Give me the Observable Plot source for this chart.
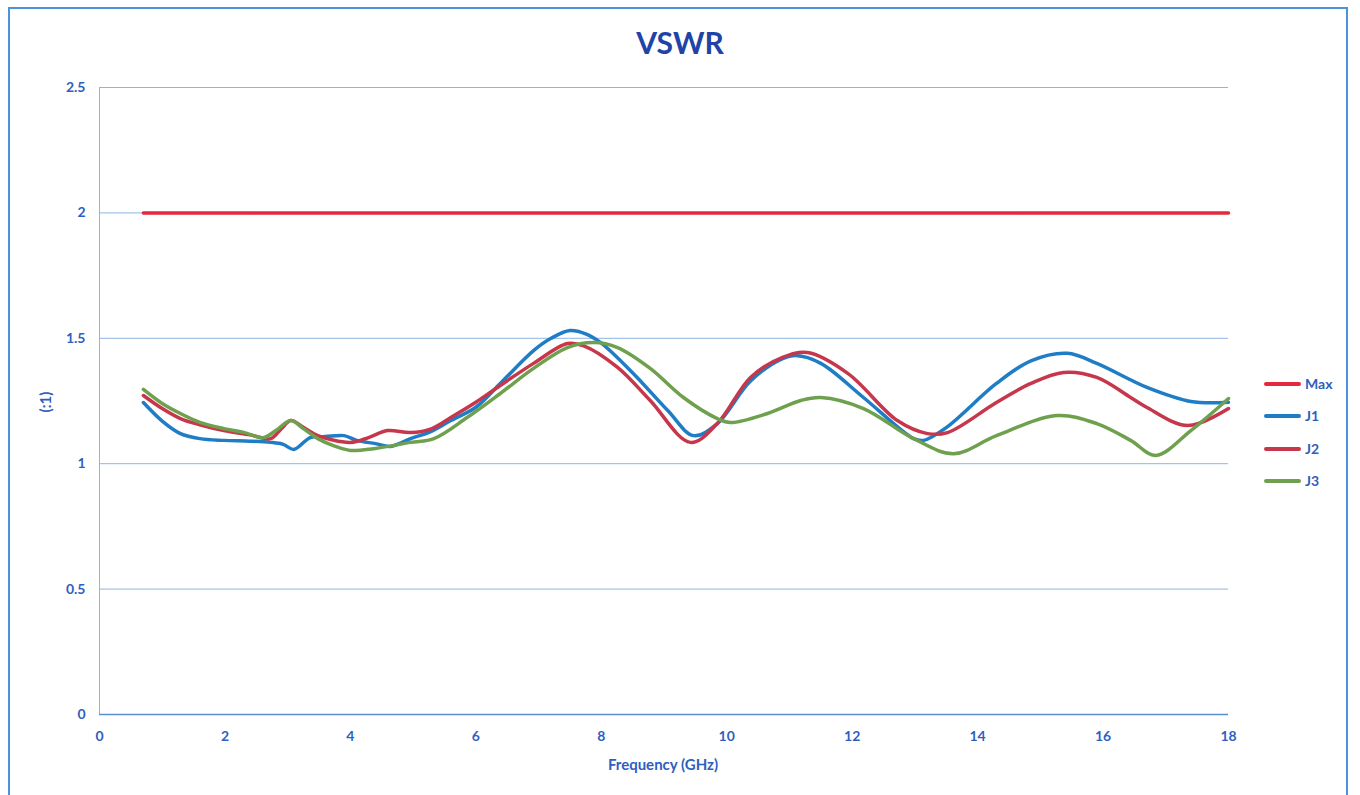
<!DOCTYPE html>
<html><head><meta charset="utf-8">
<script src="https://cdn.jsdelivr.net/npm/d3@7"></script>
<script src="https://cdn.jsdelivr.net/npm/@observablehq/plot@0.6"></script>
<style>
body{margin:0;background:#fff;font-family:Lato,"Open Sans",sans-serif;}
#wrap{position:relative;width:1360px;height:795px;overflow:hidden;}
#frame{position:absolute;left:8px;top:7px;width:1340px;height:800px;border:2px solid #4d93d9;box-sizing:border-box;pointer-events:none;}
#title{position:absolute;left:0;width:1360px;top:24px;text-align:center;font-size:30px;font-weight:bold;color:#2043a8;}
#ylab{position:absolute;left:45px;top:402px;transform:translate(-50%,-50%) rotate(-90deg);font-size:15px;font-weight:bold;color:#2e5fbf;}
#xlab{position:absolute;left:0;width:1326px;top:755px;text-align:center;font-size:15px;font-weight:bold;color:#2e5fbf;}
.lg{position:absolute;left:1264px;height:20px;}
.lg span.sw{position:absolute;left:0;top:8px;width:37px;height:4px;border-radius:2px;}
.lg span.tx{position:absolute;left:41px;top:0;font-size:14px;font-weight:bold;color:#2e5fbf;line-height:20px;}
#chart{position:absolute;left:0;top:0;}
</style>
</head><body>
<div id="wrap">
<div id="chart"></div>
<div id="title">VSWR</div>
<div id="ylab">(:1)</div>
<div id="xlab">Frequency (GHz)</div>
<div id="legend"></div>
<div id="frame"></div>
</div>
<script>
const seriesNames = ["Max", "J1", "J2", "J3"];
const seriesColors = ["#e4283d", "#1f7dc6", "#c7374c", "#6ea04e"];
const xTicks = [0, 2, 4, 6, 8, 10, 12, 14, 16, 18];
const yTicks = [0, 0.5, 1, 1.5, 2, 2.5];

const maxFreq = [0.7, 18];
const maxVal = [2, 2];

const j1Freq = [0.7, 1.0, 1.29, 1.6, 1.98, 2.4, 2.73, 2.93, 3.1, 3.36, 3.6, 3.9, 4.1, 4.4, 4.64, 4.96, 5.3, 5.6, 6.0, 6.39, 6.92, 7.2, 7.5, 7.75, 7.99, 8.51, 9.06, 9.47, 9.85, 10.38, 10.9, 11.1, 11.5, 12.18, 12.98, 13.14, 13.5, 14.3, 14.85, 15.43, 15.9, 16.7, 17.4, 18];
const j1Val = [1.244, 1.17, 1.12, 1.10, 1.093, 1.09, 1.085, 1.077, 1.057, 1.104, 1.108, 1.112, 1.093, 1.08, 1.069, 1.10, 1.13, 1.172, 1.225, 1.32, 1.451, 1.50, 1.531, 1.518, 1.483, 1.36, 1.212, 1.112, 1.16, 1.33, 1.42, 1.431, 1.40, 1.264, 1.10, 1.093, 1.144, 1.32, 1.41, 1.44, 1.40, 1.304, 1.248, 1.245];

const j2Freq = [0.7, 1.0, 1.29, 1.6, 1.98, 2.4, 2.73, 2.9, 3.05, 3.25, 3.48, 4.0, 4.3, 4.59, 4.96, 5.3, 5.6, 6.0, 6.39, 6.92, 7.46, 7.72, 8.26, 8.78, 9.42, 9.85, 10.38, 10.9, 11.29, 11.93, 12.72, 13.2, 13.52, 14.3, 14.85, 15.37, 15.9, 16.44, 16.7, 17.35, 18];
const j2Val = [1.272, 1.22, 1.18, 1.155, 1.132, 1.115, 1.10, 1.14, 1.172, 1.145, 1.112, 1.085, 1.105, 1.132, 1.124, 1.14, 1.184, 1.245, 1.312, 1.40, 1.479, 1.47, 1.384, 1.252, 1.085, 1.16, 1.344, 1.425, 1.443, 1.36, 1.172, 1.12, 1.124, 1.244, 1.32, 1.364, 1.344, 1.264, 1.224, 1.152, 1.22];

const j3Freq = [0.7, 1.0, 1.29, 1.6, 1.98, 2.3, 2.61, 2.8, 3.05, 3.25, 3.48, 3.75, 4.0, 4.37, 4.96, 5.33, 5.86, 6.39, 6.92, 7.46, 7.88, 8.26, 8.78, 9.31, 9.85, 10.06, 10.65, 11.18, 11.5, 12.18, 12.98, 13.62, 14.3, 15.27, 15.9, 16.44, 16.84, 17.4, 18];
const j3Val = [1.296, 1.24, 1.20, 1.165, 1.14, 1.125, 1.104, 1.13, 1.172, 1.14, 1.10, 1.07, 1.053, 1.06, 1.085, 1.10, 1.184, 1.28, 1.38, 1.463, 1.483, 1.463, 1.38, 1.264, 1.18, 1.164, 1.20, 1.252, 1.264, 1.22, 1.10, 1.04, 1.112, 1.192, 1.16, 1.093, 1.033, 1.132, 1.26];

const toRows = (name, fs, vs) => fs.map((f, i) => ({series: name, f, v: vs[i]}));
const data = [
  ...toRows("Max", maxFreq, maxVal),
  ...toRows("J1", j1Freq, j1Val),
  ...toRows("J2", j2Freq, j2Val),
  ...toRows("J3", j3Freq, j3Val)
];

const tickColor = "#2e5fbf";
const chart = Plot.plot({
  width: 1360,
  height: 795,
  marginLeft: 99,
  marginRight: 132,
  marginTop: 87,
  marginBottom: 81,
  style: {fontFamily: "Lato, 'Open Sans', sans-serif", background: "transparent"},
  x: {domain: [0, 18]},
  y: {domain: [0, 2.5]},
  color: {domain: seriesNames, range: seriesColors},
  marks: [
    Plot.gridY(yTicks, {stroke: "#8db5e4", strokeOpacity: 1, strokeWidth: 1}),
    Plot.ruleX([0], {stroke: "#8db5e4", strokeWidth: 1}),
    Plot.ruleY([0], {stroke: "#5b8fd2", strokeWidth: 1.5}),
    Plot.axisY({ticks: yTicks, tickSize: 0, tickPadding: 14, label: null, color: tickColor, fontSize: 14, fontWeight: "bold", tickFormat: d => String(d)}),
    Plot.axisX({ticks: xTicks, tickSize: 0, tickPadding: 17, label: null, color: tickColor, fontSize: 14, fontWeight: "bold"}),
    Plot.line(data, {x: "f", y: "v", z: "series", stroke: "series", strokeWidth: 3.5, curve: "catmull-rom", strokeLinecap: "round", strokeLinejoin: "round"})
  ]
});
document.getElementById("chart").appendChild(chart);

const legend = document.getElementById("legend");
const legendTop = [374, 406, 439, 471];
seriesNames.forEach((name, i) => {
  const d = document.createElement("div");
  d.className = "lg";
  d.style.top = legendTop[i] + "px";
  d.innerHTML = `<span class="sw" style="background:${seriesColors[i]}"></span><span class="tx">${name}</span>`;
  legend.appendChild(d);
});
</script>
</body></html>
